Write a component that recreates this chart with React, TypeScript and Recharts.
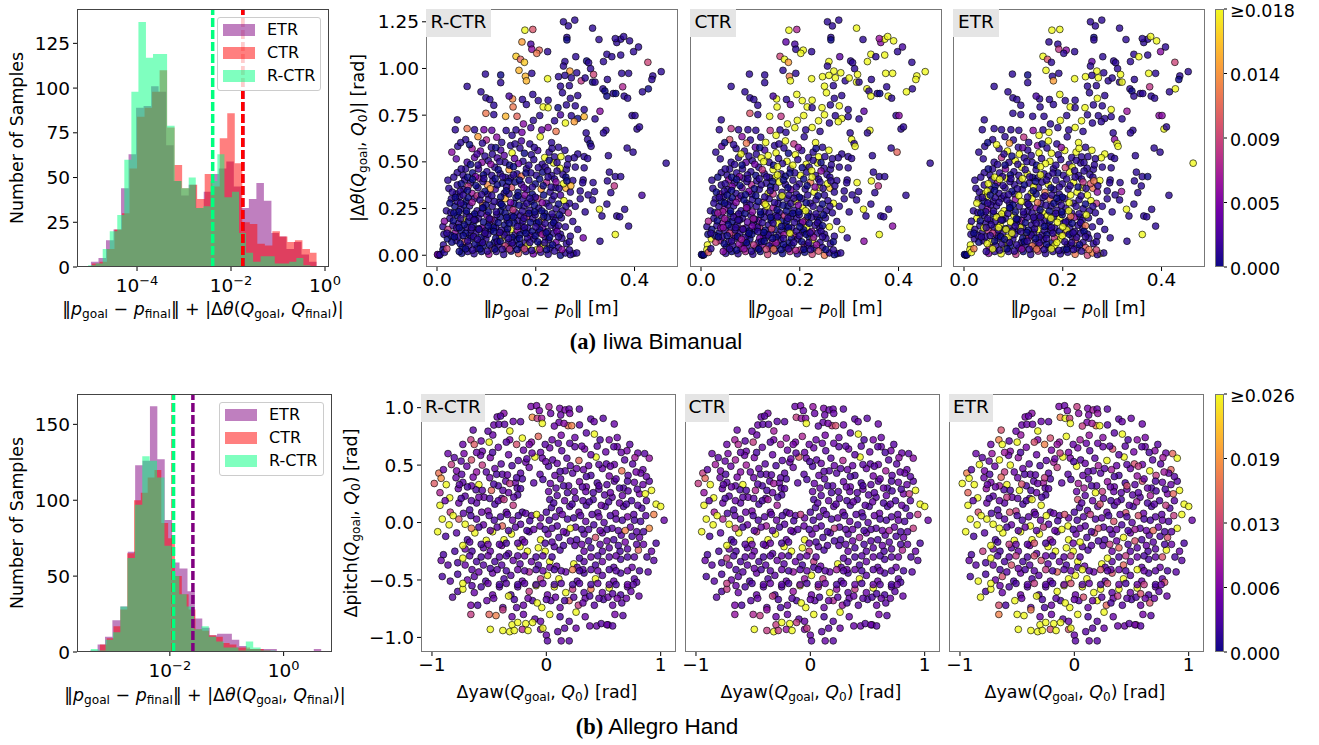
import { Area, Bar, BarChart, ComposedChart, ReferenceLine, Scatter, ScatterChart, XAxis, YAxis } from "recharts";

const FONT = "DejaVu Sans";
const PURPLE = "#800080";
const RED = "#ff0000";
const GREEN = "#00ff7f";

// ---- histogram (a): log10 bin edges and counts
const aEtrEdges = [-4.98,-4.82,-4.66,-4.5,-4.34,-4.18,-4.02,-3.86,-3.7,-3.54,-3.38,-3.22,-3.06,-2.9,-2.74,-2.58,-2.42,-2.26,-2.1,-1.94,-1.78,-1.62,-1.46,-1.3,-1.14,-0.98,-0.82,-0.66,-0.5,-0.34,-0.18];
const aEtrCounts = [3,5,15,21,44,63,89,90,101,98,68,48,40,46,33,42,52,55,59,45,33,38,47,37,19,17,10,14,7,3];
const aCtrEdges = [-4.96,-4.8,-4.64,-4.48,-4.32,-4.16,-4.0,-3.84,-3.68,-3.52,-3.36,-3.2,-3.04,-2.88,-2.72,-2.56,-2.4,-2.24,-2.08,-1.92,-1.76,-1.6,-1.44,-1.28,-1.12,-0.96,-0.8,-0.64,-0.48,-0.32,-0.18];
const aCtrCounts = [2,3,10,21,30,55,84,89,98,110,78,57,44,46,38,52,45,72,86,58,25,24,13,12,20,17,14,15,10,8];
const aRctrEdges = [-5.04,-4.88,-4.73,-4.58,-4.42,-4.27,-4.12,-3.97,-3.81,-3.66,-3.51,-3.36,-3.2,-3.05,-2.9,-2.75,-2.59,-2.44,-2.29,-2.14,-1.98,-1.83,-1.68,-1.53,-1.37,-1.22,-1.07,-0.92,-0.76,-0.61,-0.46,-0.31];
const aRctrCounts = [1,2,10,20,29,60,98,137,117,119,119,79,48,44,50,33,34,48,63,39,42,19,8,3,6,6,2,2,3,5,1];
const aMedians = { etr: -1.75, ctr: -1.75, rctr: -2.39 };

// ---- histogram (b)
const bEtrEdges = [-3.4,-3.27,-3.14,-3.01,-2.87,-2.74,-2.61,-2.48,-2.35,-2.22,-2.09,-1.96,-1.83,-1.69,-1.56,-1.43,-1.3,-1.17,-1.04,-0.91,-0.78,-0.65,-0.52,-0.38,-0.25,-0.12,0.01,0.14,0.27,0.4,0.53,0.66];
const bEtrCounts = [1,5,10,21,30,66,123,126,162,127,87,59,55,40,22,16,11,12,12,8,4,2,2,2,2,0,0,0,0,0,2];
const bCtrEdges = [-3.23,-3.11,-2.99,-2.87,-2.75,-2.63,-2.51,-2.39,-2.27,-2.15,-2.03,-1.91,-1.79,-1.67,-1.55,-1.43,-1.31,-1.19,-1.07,-0.95,-0.83,-0.71,-0.59,-0.47,-0.35,-0.23];
const bCtrCounts = [5,9,17,28,65,100,105,115,120,85,75,50,38,28,15,14,11,10,6,5,3,3,2,2,1];
const bRctrEdges = [-3.39,-3.26,-3.13,-3.0,-2.87,-2.745,-2.615,-2.485,-2.355,-2.225,-2.095,-1.965,-1.835,-1.705,-1.575,-1.445,-1.315,-1.185,-1.055,-0.925,-0.795,-0.665,-0.535,-0.405,-0.275,-0.145];
const bRctrCounts = [2,1,8,13,30,62,97,129,126,115,70,50,38,30,15,17,10,7,3,3,1,7,3,1,1];
const bMedians = { etr: -1.595, ctr: -1.94, rctr: -1.935 };

// ---- scatter (a): start-goal distance and rotation, one point per sample
const topPoints = [
  [.256,1.25],[.266,1.228],[.279,1.259],[.315,1.216],[.263,1.166],[.263,1.153],[.328,1.155],[.178,1.205],[.194,1.209],[.172,1.142],
  [.19,1.13],[.192,1.103],[.207,1.098],[.202,1.081],[.224,1.09],[.16,1.065],[.169,1.049],[.177,1.033],[.166,.99],[.179,.958],
  [.181,.934],[.224,.945],[.192,.974],[.098,.97],[.129,.965],[.129,.924],[.061,.904],[.089,.875],[.099,.843],[.107,.834],
  [.115,.803],[.099,.76],[.115,.753],[.041,.725],[.037,.672],[.061,.678],[.076,.672],[.095,.672],[.111,.669],[.139,.744],
  [.162,.744],[.153,.837],[.146,.852],[.154,.794],[.173,.834],[.181,.807],[.194,.861],[.205,.828],[.215,.794],[.225,.83],
  [.364,1.139],[.372,1.157],[.378,1.171],[.39,1.148],[.361,1.16],[.398,1.09],[.408,1.115],[.344,1.076],[.337,1.037],[.354,1.063],
  [.372,1.072],[.303,1.04],[.307,1.031],[.281,1.063],[.259,1.037],[.256,1.013],[.311,.999],[.317,.968],[.269,.986],[.283,.977],
  [.246,.956],[.259,.963],[.272,.95],[.292,.934],[.3,.949],[.315,.927],[.32,.927],[.345,.941],[.374,.974],[.388,.974],
  [.427,1.033],[.454,.983],[.437,.96],[.435,.941],[.428,.891],[.416,.875],[.376,.902],[.336,.891],[.34,.879],[.344,.852],
  [.357,.866],[.362,.866],[.379,.852],[.386,.841],[.33,.771],[.395,.748],[.401,.748],[.405,.676],[.41,.687],[.342,.669],
  [.337,.655],[.385,.574],[.397,.552],[.464,.493],[.347,.533],[.349,.445],[.361,.421],[.372,.421],[.359,.371],[.415,.321],
  [.352,.335],[.345,.398],[.364,.21],[.37,.206],[.38,.246],[.388,.156],[.361,.111],[.33,.075],[.344,.274],[.329,.246],
  [.334,.21],[.315,.296],[.319,.341],[.296,.403],[.316,.389],[.306,.323],[.29,.344],[.261,.359],[.296,.093],[.276,.009],
  [.25,.905],[.268,.908],[.254,.87],[.27,.84],[.285,.855],[.245,.79],[.262,.805],[.28,.8],[.298,.78],[.25,.752],
  [.272,.747],[.285,.732],[.298,.742],[.32,.73],[.238,.72],[.26,.708],[.278,.715],[.302,.655],[.305,.62],[.31,.598],
  [.312,.583],[.285,.542],[.298,.528],[.305,.518],[.278,.522],[.262,.46],[.28,.472],[.298,.468],[.275,.4],[.255,.432],
  [.295,.388],[.29,.302],[.28,.262],[.268,.278],[.25,.322],[.24,.362],[.27,.338],[.3,.232],[.275,.181],[.26,.152],
  [.285,.138],[.27,.102],[.25,.113],[.24,.148],[.262,.062],[.283,.012],[.252,.2],[.235,.204],[.225,.79],[.208,.748],
  [.195,.722],[.175,.703],[.16,.671],[.14,.668],[.152,.642],[.172,.658],[.19,.683],[.212,.671],[.225,.684],[.241,.663],
  [.121,.632],[.1,.617],[.083,.635],[.058,.619],[.042,.583],[.039,.516],[.03,.552],[.061,.498],[.092,.6],[.11,.578],
  [.131,.604],[.149,.587],[.171,.612],[.188,.596],[.209,.634],[.232,.603],[.246,.578],[.259,.562],[.071,.571],[.088,.558],
  [.112,.541],[.129,.563],[.152,.548],[.168,.574],[.191,.538],[.204,.561],[.227,.552],[.238,.527],[.251,.528],[.266,.517],
  [.058,.462],[.076,.523],[.091,.497],[.104,.506],[.122,.521],[.138,.497],[.157,.518],[.174,.503],[.196,.512],[.213,.487],
  [.219,.472],[.236,.494],[.249,.466],[.264,.484],[.041,.442],[.053,.428],[.072,.441],[.084,.462],[.101,.447],[.117,.471],
  [.128,.437],[.146,.458],[.162,.436],[.181,.463],[.201,.428],[.214,.445],[.232,.427],[.243,.451],[.261,.418],[.022,.402],
  [.041,.376],[.056,.403],[.068,.388],[.086,.412],[.102,.378],[.113,.398],[.132,.386],[.149,.414],[.171,.379],[.186,.402],
  [.199,.382],[.222,.391],[.238,.408],[.256,.383],[.271,.372],[.024,.358],[.039,.328],[.054,.352],[.071,.331],[.083,.361],
  [.103,.327],[.118,.353],[.136,.331],[.151,.362],[.164,.337],[.182,.351],[.193,.326],[.211,.354],[.229,.338],[.247,.358],
  [.029,.302],[.046,.313],[.059,.287],[.076,.304],[.092,.278],[.104,.298],[.126,.283],[.138,.303],[.156,.277],[.174,.302],
  [.191,.288],[.204,.303],[.221,.279],[.233,.297],[.257,.292],[.019,.238],[.036,.262],[.048,.247],[.066,.264],[.081,.238],
  [.094,.253],[.112,.262],[.129,.237],[.146,.254],[.159,.228],[.176,.263],[.188,.241],[.206,.252],[.218,.226],[.241,.249],
  [.254,.238],[.266,.227],[.026,.197],[.041,.213],[.053,.187],[.072,.209],[.084,.198],[.101,.214],[.116,.186],[.128,.203],
  [.151,.212],[.163,.187],[.182,.208],[.194,.197],[.212,.188],[.224,.204],[.239,.186],[.032,.158],[.044,.172],[.061,.148],
  [.073,.163],[.091,.147],[.106,.173],[.119,.148],[.137,.162],[.149,.137],[.171,.158],[.184,.146],[.202,.172],[.214,.148],
  [.231,.161],[.012,.153],[.036,.118],[.049,.132],[.066,.108],[.079,.123],[.096,.107],[.109,.134],[.126,.106],[.141,.122],
  [.158,.108],[.176,.131],[.189,.106],[.206,.123],[.219,.098],[.236,.118],[.021,.088],[.039,.078],[.056,.073],[.069,.092],
  [.086,.068],[.099,.087],[.116,.069],[.131,.093],[.144,.067],[.161,.082],[.179,.068],[.196,.087],[.209,.058],[.226,.082],
  [.241,.068],[.253,.091],[.051,.043],[.064,.052],[.081,.038],[.094,.053],[.111,.039],[.124,.056],[.141,.037],[.154,.052],
  [.171,.043],[.184,.053],[.201,.028],[.216,.051],[.229,.039],[.246,.041],[.002,.002],[.004,0],[.001,.004],[.006,.003],
  [.013,.055],[.012,.03],[.015,.015],[.02,.035],[.05,.01],[.062,.02],[.075,.008],[.09,.02],[.105,.005],[.12,.02],
  [.135,.004],[.15,.022],[.165,.009],[.18,.02],[.195,.007],[.21,.016],[.225,.005],[.25,0],[.26,.012],[.27,.003],
  // second pass over the crowded lower left
  [.048,.603],[.066,.592],[.081,.542],[.097,.531],[.119,.576],[.136,.534],[.158,.596],[.177,.546],[.197,.577],[.218,.523],
  [.233,.572],[.068,.486],[.083,.483],[.109,.487],[.127,.501],[.147,.482],[.165,.491],[.186,.482],[.205,.469],[.227,.508],
  [.243,.496],[.049,.462],[.062,.418],[.078,.421],[.094,.43],[.111,.427],[.124,.458],[.139,.416],[.155,.474],[.171,.423],
  [.19,.441],[.208,.408],[.224,.453],[.241,.392],[.034,.418],[.049,.383],[.063,.369],[.079,.373],[.093,.394],[.108,.356],
  [.122,.377],[.141,.367],[.158,.392],[.176,.361],[.193,.365],[.215,.372],[.231,.365],[.263,.398],[.031,.338],[.047,.343],
  [.063,.308],[.081,.318],[.097,.342],[.111,.319],[.129,.312],[.146,.328],[.16,.309],[.178,.322],[.199,.311],[.216,.322],
  [.237,.318],[.026,.279],[.041,.288],[.054,.27],[.071,.283],[.087,.296],[.099,.269],[.116,.288],[.133,.262],[.149,.282],
  [.166,.268],[.182,.278],[.197,.268],[.213,.281],[.227,.262],[.246,.274],[.261,.262],[.028,.228],[.044,.233],[.059,.224],
  [.076,.221],[.089,.224],[.104,.232],[.121,.218],[.138,.226],[.154,.243],[.169,.212],[.186,.224],[.199,.217],[.216,.208],
  [.233,.222],[.248,.216],[.015,.182],[.033,.184],[.048,.196],[.063,.181],[.078,.188],[.094,.178],[.109,.193],[.124,.174],
  [.142,.188],[.156,.172],[.174,.183],[.189,.176],[.206,.178],[.219,.171],[.236,.174],[.246,.158],[.022,.138],[.04,.146],
  [.055,.163],[.069,.135],[.084,.142],[.098,.13],[.114,.148],[.13,.134],[.143,.142],[.163,.132],[.177,.148],[.193,.128],
  [.208,.136],[.224,.127],[.243,.128],[.028,.106],[.043,.098],[.058,.118],[.074,.1],[.089,.096],[.103,.112],[.119,.091],
  [.136,.108],[.152,.096],[.168,.11],[.183,.092],[.199,.104],[.213,.112],[.228,.096],[.246,.099],[.014,.112],[.03,.07],
  [.047,.062],[.062,.076],[.077,.06],[.092,.068],[.107,.055],[.122,.072],[.138,.05],[.152,.066],[.167,.058],[.188,.068],
  [.204,.072],[.218,.067],[.234,.056],[.268,.072],[.058,.034],[.072,.027],[.087,.034],[.102,.022],[.117,.033],[.132,.032],
  [.147,.032],[.162,.03],[.177,.034],[.192,.026],[.208,.032],[.222,.03],[.238,.022],[.253,.03],[.268,.028],[.045,.02],
  [.053,.105],[.066,.204],[.034,.226],[.048,.279],[.037,.31],[.053,.322],[.118,.41],[.167,.402],[.225,.418],[.062,.347],
  [.085,.138],[.104,.156],[.127,.122],[.146,.172],[.163,.154],[.18,.118],[.2,.152],[.221,.12],[.092,.254],[.12,.232],
  [.155,.206],[.173,.236],[.212,.238],[.06,.236],[.075,.188],[.106,.195],[.141,.203],[.176,.198],[.198,.232],[.13,.273],
  [.097,.118],[.115,.127],[.082,.085],[.128,.075],[.167,.09],[.145,.09],[.045,.148],[.07,.148],[.035,.098],[.02,.118],
  [.14,.345],[.09,.325],[.164,.318],[.188,.305],[.072,.406],[.095,.41],[.145,.395],[.133,.42],[.18,.44],[.155,.43],
];
// final errors, in thousandths, same order as topPoints
const topErrRctr = [
  1,1,1,1,1,0,1,18,10,14, 2,5,11,12,1,16,11,16,15,15, 15,18,1,1,0,1,1,1,1,1, 1,12,1,1,1,12,1,4,3,15, 11,13,2,12,1,1,1,1,18,1,
  1,1,1,1,1,1,1,1,1,1, 1,0,1,1,1,1,1,9,14,1, 1,1,1,8,1,0,1,1,1,1, 9,1,1,1,0,1,7,1,0,0, 1,0,1,1,5,1,1,1,1,1,
  1,1,1,1,1,1,1,1,8,2, 1,1,1,1,1,1,18,1,1,18, 1,1,1,1,1,1,1,15,4,1, 1,1,1,1,1,0,1,1,1,2, 1,0,15,1,1,18,14,1,1,0,
  1,1,1,1,1,1,1,1,1,1, 1,1,1,1,2,1,1,1,1,1, 1,1,1,1,1,1,1,1,18,1, 1,5,1,1,1,4,2,3,5,12, 5,7,14,1,1,3,5,2,1,1,
  1,1,2,1,18,1,1,1,6,4, 1,2,18,1,1,2,1,1,18,1, 1,3,5,1,2,1,3,1,1,1, 1,18,18,1,1,1,0,2,1,1, 1,14,1,1,1,0,1,1,0,1,
  1,1,1,6,13,1,0,1,2,1, 0,7,1,18,15,1,1,1,6,1, 1,2,1,10,0,1,0,14,1,1, 1,1,0,1,13,1,1,15,0,1, 0,8,1,1,18,1,0,1,1,1,
  1,1,0,1,1,1,1,1,0,1, 1,7,1,0,18,1,1,4,1,0, 1,1,8,1,15,0,1,1,1,1, 0,4,1,1,0,18,1,1,0,3, 1,1,5,0,1,1,13,0,7,1,
  1,0,4,1,1,1,0,1,10,0, 1,1,0,18,1,0,1,1,0,1, 4,1,0,1,1,0,11,1,0,1, 1,18,18,18,1,1,0,1,4,1, 1,0,1,9,0,1,1,0,6,1,
  1,0,11,1,4,1,1,0,1,1,
  1,0,2,1,0,3,1,0,1,18, 1,0,1,5,1,0,4,1,1,0, 1,1,0,4,0,1,0,1,0,12, 1,0,1,5,1,0,8,0,1,14, 0,1,0,3,1,0,1,0,1,1,
  0,8,0,1,0,1,0,5,1,0, 1,0,1,0,6,1,0,1,0,4, 0,1,0,5,1,0,1,1,0,1, 0,1,0,1,0,8,1,0,1,0, 1,0,5,0,1,0,1,0,6,0,
  1,0,1,0,0,1,0,1,8,1, 0,1,0,1,0,1,0,5,1,0, 0,1,3,0,1,0,1,0,1,0, 1,0,0,1,0,6,0,1,1,0, 0,1,0,1,0,1,9,1,0,1,
  0,1,0,1,0,1,0,1,0,1, 8,0,9,1,7,0,1,5,1,0, 0,1,0,1,0,1,0,0,1,0, 1,0,1,0,1,0,1,0,0,1, 0,1,0,0,1,1,0,1,0,0,
  1,0,1,0,0,1,0,1,0,1, 0,1,0,1,0,1,0,1,0,1,
];
const topErrCtr = [
  1,1,1,18,1,0,1,18,7,3, 2,1,18,18,1,9,18,14,1,12, 18,18,1,1,1,1,1,1,1,1, 1,10,1,1,1,8,1,1,1,18, 8,18,2,18,1,3,18,18,18,18,
  5,18,18,18,6,1,2,18,18,1, 18,1,1,3,18,1,1,18,18,18, 18,18,18,1,18,18,1,1,18,18, 1,18,18,18,1,18,1,18,1,18, 1,0,18,1,3,1,5,1,1,18,
  1,1,11,1,1,1,1,1,8,1, 1,18,1,1,1,5,18,5,1,18, 1,1,1,1,18,1,1,16,1,1, 18,1,18,1,1,18,1,18,1,18, 1,18,1,1,18,1,18,1,18,1,
  18,1,1,1,1,1,1,1,1,1, 1,1,1,18,1,18,1,1,1,18, 18,1,1,1,1,1,1,1,1,18, 18,18,1,8,18,1,18,1,18,1, 1,1,5,10,3,1,1,1,12,3,
  18,1,18,8,1,18,1,18,1,1, 1,2,18,1,18,1,1,18,1,1, 1,1,3,1,18,1,1,18,1,18, 1,18,1,1,1,1,1,1,1,1, 1,18,1,1,18,1,1,5,1,1,
  1,5,1,1,7,1,1,18,1,1, 1,12,1,18,1,1,5,1,1,3, 1,1,18,1,1,4,1,1,18,1, 1,1,1,5,1,1,8,1,1,1, 18,1,1,1,1,1,1,5,1,1,
  1,1,1,6,1,0,1,18,1,1, 1,1,1,1,0,8,1,1,4,1, 1,0,1,1,10,1,0,1,5,1, 1,1,0,8,1,0,1,1,0,18, 1,1,0,1,9,1,1,0,1,1,
  1,0,7,1,0,1,18,6,1,1, 1,0,1,1,5,1,0,1,8,18, 1,1,0,1,6,1,0,5,1,0, 1,0,8,1,0,1,0,0,0,0, 18,18,10,1,1,0,1,7,1,0,
  9,1,0,7,1,0,9,12,1,0,
  0,1,18,1,0,18,1,0,5,1, 0,1,0,4,18,0,1,18,0,1, 0,1,0,5,1,0,8,1,18,0, 1,0,18,1,0,1,4,0,1,0, 1,0,18,0,1,0,5,1,0,1,
  0,1,4,0,1,8,0,1,0,1, 0,1,0,1,5,0,1,0,18,1, 0,1,4,0,1,0,1,0,6,0, 1,0,5,0,1,0,8,0,1,0, 1,0,7,0,6,0,1,3,0,1,
  0,18,0,1,5,0,1,0,0,4, 0,1,6,0,1,0,9,1,0,1, 0,5,1,0,1,8,0,1,0,4, 1,0,6,0,1,0,5,1,0,9, 0,1,5,0,8,0,1,6,0,1,
  0,1,6,0,1,0,5,1,0,9, 12,0,1,7,0,1,10,0,1,5, 0,1,6,0,1,0,1,0,18,0, 1,4,0,1,0,18,0,1,5,0, 1,0,18,0,1,6,0,1,0,18,
  0,1,6,0,1,0,5,1,0,1, 1,0,18,1,0,1,0,1,0,18,
];
const topErrEtr = [
  1,1,1,1,0,1,1,18,18,1, 1,8,5,1,1,18,10,1,18,1, 14,18,1,1,0,1,1,1,1,1, 1,1,1,1,1,1,1,1,1,1, 1,1,2,1,1,1,18,1,18,1,
  1,1,18,18,1,5,1,1,1,18, 1,1,1,1,3,1,1,18,18,1, 18,1,18,1,1,1,18,1,18,1, 9,1,1,0,18,1,8,1,0,1, 1,1,1,1,6,5,5,18,1,1,
  1,1,1,18,1,1,1,0,1,1, 1,1,1,1,1,1,18,1,1,18, 1,1,6,1,1,1,1,12,1,18, 1,1,1,18,1,18,1,1,18,1, 1,1,1,1,18,1,1,1,5,18,
  18,18,1,1,18,1,1,1,18,1, 1,1,1,8,18,18,5,1,1,1, 1,1,1,1,1,1,1,1,1,1, 18,1,1,5,18,18,1,1,18,1, 8,1,1,1,1,1,1,1,14,1,
  1,5,18,1,1,18,1,18,1,18, 18,1,18,1,1,18,18,1,1,1, 1,8,1,18,1,1,1,18,1,1, 18,1,1,1,1,1,1,5,1,18, 18,1,1,1,1,18,1,1,1,1,
  1,1,5,18,1,1,1,1,18,1, 1,18,1,10,1,1,18,1,1,1, 1,1,18,1,12,1,1,1,18,1, 1,18,1,1,1,5,1,18,1,12, 1,1,1,1,18,1,1,5,1,18,
  1,1,1,5,18,1,1,1,1,1, 1,1,18,1,1,1,1,18,5,1, 1,1,0,18,1,5,1,1,1,1, 18,1,0,1,1,18,1,1,1,1, 1,18,1,8,1,1,1,0,18,1,
  1,1,18,5,1,1,1,1,18,1, 18,1,1,6,1,1,0,18,1,10, 1,1,5,1,18,0,1,1,1,8, 1,18,0,1,1,10,0,0,0,0, 18,18,18,12,5,1,18,1,8,0,
  1,8,1,1,1,1,12,9,13,1,
  0,18,1,0,3,1,0,18,5,1, 18,1,0,1,1,0,18,1,9,1, 1,0,18,1,0,1,1,0,18,1, 0,1,1,8,1,18,0,1,1,1, 0,18,1,0,1,1,0,12,1,18,
  1,1,0,18,1,0,1,1,0,18, 1,18,0,1,1,1,0,18,1,12, 1,0,1,18,1,0,1,1,1,0, 18,1,0,1,1,0,18,1,0,12, 1,18,1,0,1,1,0,18,1,0,
  1,1,0,18,1,0,1,12,1,18, 1,1,0,1,18,0,1,1,1,0, 18,1,0,1,1,8,0,18,1,0, 1,1,0,8,18,0,1,1,1,0, 18,0,1,1,1,0,12,1,0,18,
  1,1,0,1,18,1,0,1,5,1, 12,1,18,1,0,1,1,12,9,1, 1,18,0,1,1,0,18,1,1,0, 18,1,0,1,0,1,18,1,0,1, 1,0,18,1,1,0,1,18,0,1,
  18,1,0,1,1,0,1,18,1,0, 0,1,1,0,18,1,0,1,1,18,
];

// ---- scatter (b): yaw and pitch of the goal
const botPoints = [
  [-.134,1.01],[-.085,1.017],[.023,1.008],[-.061,.974],[.038,.95],[.117,.994],[.164,.98],[.199,.988],[.289,.988],[.126,.936],
  [.205,.95],[-.123,.916],[-.079,.907],[-.041,.907],[-.225,.878],[-.43,.919],[-.371,.951],[-.4,.927],[.389,.901],[.497,.907],
  [.418,.878],[.19,.843],[.222,.843],[.111,.872],[.155,.863],[-.035,.863],[-.459,.849],[-.415,.855],[-.365,.855],[.594,.858],
  [-.64,.805],[-.319,.797],[-.468,.762],[-.32,.72],[-.13,.7],[-.07,.75],[.05,.72],[.13,.76],[.25,.74],[.35,.78],
  [.42,.77],[.55,.72],[.62,.74],[.73,.68],[.62,.66],[-.66,.72],[-.63,.68],[-.73,.68],[-.56,.62],[-.5,.7],
  [-.42,.655],[-.35,.7],[-.26,.68],[-.2,.63],[-.15,.68],[-.05,.61],[.03,.65],[.135,.625],[.25,.66],[.335,.64],
  [.445,.665],[.52,.615],[.59,.66],[.705,.625],[.8,.605],[.86,.6],[.9,.56],[-.86,.6],[-.805,.565],[-.72,.6],
  [-.655,.545],[-.575,.585],[-.49,.565],[-.395,.51],[-.33,.59],[-.245,.54],[-.18,.525],[-.1,.57],[-.035,.56],[.055,.545],
  [.095,.515],[.18,.56],[.285,.54],[.37,.495],[.435,.57],[.525,.51],[.595,.505],[.685,.545],[.755,.51],[.845,.46],
  [-.94,.43],[-.83,.505],[-.785,.45],[-.695,.49],[-.61,.44],[-.56,.5],[-.45,.47],[-.385,.42],[-.3,.495],[-.225,.43],
  [-.15,.48],[-.055,.42],[.02,.49],[.075,.41],[.165,.45],[.23,.43],[.325,.46],[.39,.41],[.49,.47],[.55,.405],
  [.66,.45],[.715,.41],[.825,.43],[.9,.36],[-.98,.34],[-.92,.385],[-.875,.33],[-.79,.39],[-.73,.35],[-.64,.395],
  [-.59,.33],[-.495,.39],[-.42,.32],[-.355,.36],[-.27,.345],[-.21,.38],[-.11,.345],[-.03,.375],[.035,.34],[.125,.38],
  [.195,.32],[.29,.355],[.35,.31],[.445,.345],[.53,.33],[.595,.36],[.675,.3],[.77,.35],[.845,.33],[.92,.28],
  [-.93,.26],[-.845,.215],[-.77,.295],[-.71,.23],[-.615,.285],[-.545,.22],[-.48,.28],[-.39,.21],[-.33,.26],[-.25,.24],
  [-.255,.3],[.03,.2],[.02,.27],[.095,.235],[.185,.26],[.255,.21],[.345,.27],[.41,.2],[.51,.24],[.575,.22],
  [.665,.235],[.745,.19],[.815,.25],[.875,.19],[.96,.16],[1,.14],[-.93,.15],[-.84,.09],[-.765,.17],[-.67,.11],
  [-.61,.17],[-.51,.1],[-.45,.16],[-.35,.09],[-.29,.15],[-.21,.09],[-.13,.06],[-.05,.04],[.045,.13],[.115,.105],
  [.205,.14],[.285,.09],[.35,.15],[.45,.085],[.515,.14],[.605,.08],[.675,.14],[.765,.07],[.835,.125],[.94,.07],
  [-.91,.03],[-.85,-.02],[-.95,-.08],[-.765,.03],[-.71,-.015],[-.61,.03],[-.55,-.02],[-.455,.02],[-.385,-.03],[-.295,.02],
  [-.225,-.015],[-.145,.015],[-.055,-.03],[.025,.02],[.095,-.03],[.185,.03],[.255,-.04],[.345,.01],[.415,-.02],[.505,.0],
  [.575,-.05],[.665,.02],[.735,-.04],[.825,.01],[.9,-.05],[1.03,.02],[-.88,-.12],[-.785,-.09],[-.69,-.15],[-.625,-.09],
  [-.525,-.155],[-.47,-.08],[-.37,-.15],[-.305,-.1],[-.21,-.15],[-.15,-.08],[-.05,-.15],[.015,-.1],[.11,-.13],[.175,-.09],
  [.265,-.15],[.33,-.1],[.43,-.13],[.49,-.09],[.59,-.15],[.655,-.11],[.75,-.12],[.815,-.13],[.96,-.18],[.92,-.25],
  [-.9,-.28],[-.92,-.33],[-.86,-.37],[-.8,-.25],[-.71,-.23],[-.65,-.25],[-.55,-.22],[-.49,-.25],[-.39,-.2],[-.33,-.27],
  [-.23,-.21],[-.165,-.25],[-.07,-.22],[-.01,-.25],[.07,-.21],[.12,-.24],[.25,-.2],[.33,-.25],[.39,-.22],[.49,-.25],
  [.55,-.22],[.645,-.25],[.71,-.23],[.805,-.24],[.88,-.3],[.94,-.33],[-.775,-.35],[-.71,-.37],[-.61,-.34],[-.55,-.37],
  [-.45,-.34],[-.39,-.37],[-.29,-.33],[-.23,-.36],[-.13,-.34],[-.07,-.37],[.03,-.34],[.09,-.38],[.24,-.36],[.27,-.39],
  [.33,-.34],[.43,-.37],[.49,-.34],[.59,-.39],[.65,-.32],[.75,-.39],[.815,-.42],[.89,-.43],[-.91,-.47],[-.84,-.51],
  [-.775,-.45],[-.69,-.5],[-.63,-.47],[-.53,-.51],[-.47,-.44],[-.37,-.49],[-.31,-.46],[-.21,-.51],[-.15,-.43],[-.05,-.49],
  [.01,-.46],[.11,-.49],[.17,-.43],[.27,-.51],[.33,-.44],[.43,-.49],[.49,-.46],[.59,-.51],[.65,-.44],[.77,-.49],
  [-.82,-.65],[-.775,-.6],[-.73,-.58],[-.63,-.61],[-.57,-.56],[-.47,-.63],[-.41,-.56],[-.31,-.63],[-.25,-.56],[-.15,-.6],
  [-.09,-.55],[.01,-.63],[.07,-.56],[.17,-.61],[.23,-.58],[.33,-.61],[.39,-.58],[.49,-.61],[.55,-.57],[.65,-.63],
  [.71,-.56],[.81,-.64],[-.66,-.72],[-.6,-.72],[-.46,-.66],[-.38,-.74],[-.28,-.67],[-.2,-.72],[-.12,-.68],[-.04,-.74],
  [.04,-.68],[.12,-.74],[.2,-.68],[.28,-.72],[.34,-.66],[.42,-.72],[.5,-.67],[.58,-.72],[.66,-.7],[.7,-.66],
  [-.66,-.8],[-.5,-.8],[-.44,-.81],[-.38,-.76],[-.3,-.82],[-.2,-.8],[-.1,-.84],[-.05,-.86],[.03,-.8],[.12,-.82],
  [.2,-.86],[.26,-.78],[.34,-.82],[.44,-.9],[.48,-.88],[.54,-.89],[.6,-.8],[.67,-.81],[.53,-.89],[-.3,-.89],
  [-.25,-.87],[-.18,-.88],[-.12,-.87],[-.05,-.93],[-.49,-.93],[-.38,-.94],[-.32,-.95],[-.28,-.94],[-.21,-.93],[.1,-.95],
  [.16,-.92],[.26,-.92],[0,-.98],[.01,-1.03],[.13,-1.03],[.2,-1.03],[-.03,-.92],[.58,-.9],[-.16,-.94],[.38,-.9],
  // second pass
  [-.29,.88],[.29,.85],[.07,.84],[-.51,.795],[-.57,.71],[-.21,.735],[.205,.69],[.31,.665],[.47,.72],[-.61,.61],
  [.105,.69],[.39,.59],[-.745,.535],[-.47,.61],[-.125,.605],[-.01,.68],[.46,.505],[.655,.61],[.775,.565],[-.9,.46],
  [-.74,.42],[-.655,.32],[-.525,.44],[-.435,.42],[-.34,.415],[-.26,.39],[-.17,.555],[-.005,.53],[.12,.445],[.21,.495],
  [.265,.47],[.35,.4],[.46,.29],[.56,.49],[.61,.38],[.71,.36],[.785,.44],[.875,.4],[.795,.29],[-.76,.33],
  [-.69,.31],[-.56,.28],[-.46,.335],[-.38,.28],[-.32,.34],[-.225,.295],[.085,.3],[.15,.32],[.245,.27],[.315,.31],
  [.41,.26],[.46,.32],[.56,.26],[.64,.3],[.715,.275],[.865,.25],[-.885,.19],[-.745,.21],[-.655,.19],[-.59,.22],
  [-.495,.21],[-.42,.19],[-.37,.2],[-.285,.22],[.065,.17],[.16,.19],[.225,.16],[.32,.19],[.375,.18],[.48,.15],
  [.545,.18],[.64,.17],[.7,.16],[.8,.15],[-.815,.06],[-.725,.08],[-.66,.06],[-.565,.09],[-.5,.06],[-.4,.05],
  [-.34,.07],[-.245,.06],[-.18,.08],[-.085,.07],[.0,.09],[.08,.05],[.14,.07],[.24,.04],[.3,.06],[.4,.07],
  [.46,.05],[.56,.06],[.61,.03],[.71,.05],[.77,.02],[.87,.06],[-.655,-.05],[-.59,-.04],[-.49,-.07],[-.43,-.04],
  [-.33,-.07],[-.27,-.04],[-.17,-.07],[-.11,-.06],[-.01,-.06],[.05,-.05],[.15,-.08],[.21,-.05],[.31,-.06],[.37,-.06],
  [.47,-.07],[.53,-.06],[.63,-.07],[.69,-.07],[.79,-.08],[.85,-.08],[-.73,-.2],[-.67,-.17],[-.57,-.19],[-.51,-.19],
  [-.41,-.19],[-.35,-.18],[-.25,-.18],[-.19,-.17],[-.01,-.18],[.05,-.17],[.15,-.2],[.21,-.16],[.31,-.19],[.37,-.16],
  [.47,-.19],[.53,-.16],[.63,-.2],[.69,-.17],[.79,-.19],[.85,-.19],[-.73,-.31],[-.67,-.29],[-.57,-.3],[-.51,-.29],
  [-.41,-.3],[-.35,-.29],[-.25,-.29],[-.19,-.29],[-.09,-.3],[-.03,-.29],[.05,-.3],[.03,-.39],[.32,-.41],[.29,-.31],
  [.39,-.3],[.45,-.29],[.55,-.3],[.61,-.29],[.71,-.3],[.77,-.3],[-.65,-.41],[-.59,-.43],[-.49,-.4],[-.43,-.41],
  [-.35,-.42],[-.25,-.41],[-.19,-.42],[-.09,-.41],[-.03,-.42],[.07,-.41],[.13,-.42],[.23,-.41],[.29,-.42],[.39,-.41],
  [.45,-.42],[.55,-.41],[.61,-.42],[.71,-.42],[.79,-.52],[-.73,-.53],[-.65,-.55],[-.51,-.53],[-.41,-.54],[-.35,-.53],
  [-.25,-.54],[-.19,-.53],[-.09,-.54],[-.03,-.53],[.07,-.54],[.13,-.53],[.23,-.54],[.29,-.53],[.39,-.54],[.45,-.53],
  [.55,-.54],[.61,-.54],[.71,-.54],[.76,-.54],[-.52,-.68],[-.33,-.64],[-.26,-.74],[-.16,-.66],[-.08,-.7],[.0,-.67],
  [.08,-.65],[.16,-.68],[.24,-.65],[.32,-.7],[.38,-.64],[.46,-.66],[.54,-.65],[.62,-.66],[.74,-.6],[.58,-.62],
];
const botErrRctr = [
  6,6,9,6,5,6,6,5,4,5, 6,19,12,9,4,5,7,4,4,4, 5,17,18,5,7,26,5,4,4,5, 4,26,5,6,7,16,5,6,5,4, 26,6,5,4,5,12,15,5,5,26,
  5,4,14,5,6,5,5,4,4,6, 4,5,4,6,5,4,8,5,4,6, 14,5,6,4,5,4,5,26,5,4, 5,4,16,5,26,4,5,4,4,5, 17,12,6,5,8,12,5,4,3,4,
  5,4,3,5,4,4,5,3,5,6, 17,4,5,4,15,19,26,5,4,6, 26,5,3,4,5,3,4,3,5,4, 4,6,5,3,4,4,3,5,5,26, 10,26,5,4,3,5,16,4,5,3,
  4,3,5,4,3,4,5,3,4,4, 5,3,6,4,26,26,26,12,5,3, 4,6,3,5,12,3,4,5,3,4, 4,5,3,4,3,5,3,4,3,18, 26,26,26,15,26,4,5,3,16,5,
  4,3,5,3,4,3,4,5,3,4, 4,3,5,3,19,5,3,4,3,26, 26,26,26,26,5,4,26,5,3,4, 3,4,14,5,3,4,3,5,3,5, 3,5,4,3,5,3,4,5,6,4,
  26,26,26,26,4,3,4,5,3,4, 4,3,4,16,3,4,3,5,3,4, 3,4,5,4,5,3,26,5,26,4, 4,3,5,4,3,5,3,4,3,4, 3,5,4,3,5,3,4,5,10,12,
  26,26,5,4,3,26,4,5,3,4, 4,3,26,5,3,5,4,3,4,12, 26,5,26,26,12,4,18,5,26,3, 5,5,6,3,5,4,3,5,3,26, 4,5,16,12,5,4,3,5,4,5,
  12,16,18,12,5,5,4,5,26,3, 4,26,5,5,4,5,6,4,5,26, 26,26,26,6,26,26,26,26,10,4, 4,5,5,4,5,4,26,4,26,5,
  5,4,5,4,5,26,4,5,3,5, 4,5,4,3,5,4,4,5,9,5, 4,5,4,3,5,3,4,5,3,4, 5,3,4,5,4,3,6,5,4,4, 3,4,3,4,12,3,4,3,5,4,
  3,4,5,3,4,26,5,3,4,5, 3,4,12,4,3,5,3,4,3,5, 3,5,3,4,26,4,3,5,4,3, 4,3,4,26,3,4,5,3,4,4, 5,3,4,6,3,4,18,3,5,4,
  3,4,3,5,3,4,5,26,3,4, 5,3,4,18,4,3,26,4,3,5, 4,3,4,5,3,4,3,4,5,3, 4,5,3,6,4,5,26,4,3,5, 4,3,4,5,3,4,3,5,4,3,
  5,3,4,5,3,4,4,5,3,4, 3,5,4,3,5,3,4,18,3,4, 5,3,4,5,4,26,4,5,3,4, 3,4,3,5,3,4,3,4,3,5, 4,3,5,4,5,26,4,5,26,4,
  5,3,4,5,3,4,5,6,5,4,
];
const botErrCtr = [
  5,6,8,5,5,6,5,5,4,5, 5,12,8,7,4,5,6,4,4,4, 5,12,14,5,6,26,5,4,4,5, 5,9,5,6,6,10,5,6,5,4, 26,6,5,4,5,9,10,5,5,12,
  5,4,9,5,6,5,5,4,4,6, 4,5,4,6,5,4,7,5,4,6, 9,5,6,4,5,4,5,15,5,4, 5,4,10,5,26,4,5,4,4,5, 12,9,6,5,7,9,5,4,3,4,
  5,4,3,5,4,4,5,3,5,6, 9,4,5,4,12,16,26,5,4,6, 26,5,3,4,5,3,4,3,5,4, 4,5,5,3,4,4,3,5,5,26, 8,26,5,4,3,5,10,4,5,3,
  4,3,5,4,3,4,5,3,4,4, 5,3,6,4,26,26,26,9,5,3, 4,6,3,5,9,3,4,5,3,4, 4,5,3,4,3,5,3,4,3,12, 26,26,26,10,26,4,5,3,9,5,
  4,3,5,3,4,3,4,5,3,4, 4,3,5,3,12,5,3,4,3,26, 26,12,26,26,5,4,26,5,3,4, 3,4,9,5,3,4,3,5,3,5, 3,5,4,3,5,3,4,5,6,4,
  26,26,26,12,4,3,4,5,3,4, 4,3,4,10,3,4,3,5,3,4, 3,4,5,4,5,3,12,5,26,4, 4,3,5,4,3,5,3,4,3,4, 3,5,4,3,5,3,4,5,8,8,
  26,12,5,4,3,26,4,5,3,4, 4,3,12,5,3,5,4,3,4,8, 26,5,12,26,8,4,12,5,26,3, 5,5,6,3,5,4,3,5,3,26, 4,5,10,8,5,4,3,5,4,5,
  8,10,12,8,5,5,4,5,26,3, 4,26,5,5,4,5,6,4,5,12, 26,26,12,6,26,12,26,12,8,4, 4,5,5,4,5,4,12,4,26,5,
  4,5,4,5,4,8,5,4,3,4, 5,4,5,3,4,5,4,3,7,4, 3,4,5,3,4,4,5,3,4,5, 4,3,5,4,5,3,5,4,3,4, 5,3,4,3,9,4,5,3,4,5,
  4,3,4,5,3,12,4,3,5,4, 4,3,9,3,4,5,4,3,5,4, 5,3,4,5,26,3,4,5,3,4, 4,3,5,12,3,4,4,5,3,4, 3,5,3,4,5,4,12,3,4,5,
  4,3,5,4,3,5,3,12,4,5, 3,4,5,9,3,4,26,3,4,5, 4,5,3,4,5,3,4,3,4,5, 3,4,5,4,3,5,12,3,4,5, 3,4,5,3,4,5,4,3,5,4,
  3,4,5,3,4,5,3,4,5,3, 4,5,3,4,5,3,4,9,4,5, 3,4,5,4,3,12,5,3,4,5, 4,3,5,3,4,5,3,4,5,3, 5,4,3,5,4,12,3,4,26,5,
  3,5,4,3,5,4,3,5,4,3,
];
const botErrEtr = [
  6,5,12,6,7,6,9,5,4,6, 8,18,26,12,4,6,7,5,4,5, 5,18,26,6,9,26,5,5,5,5, 14,26,8,6,8,26,9,8,7,4, 26,7,6,4,5,18,26,5,7,26,
  6,14,18,6,8,6,6,4,5,14, 4,6,4,7,5,16,26,5,4,8, 26,5,8,4,5,4,9,26,6,4, 5,4,26,5,26,14,5,4,4,16, 18,26,6,5,12,26,5,4,3,4,
  12,4,26,5,4,4,9,3,5,8, 26,12,5,4,26,26,26,5,6,16, 26,5,3,4,9,3,4,3,9,4, 4,8,5,3,4,14,3,5,5,26, 16,26,8,4,3,5,26,4,5,3,
  4,14,5,4,26,4,5,3,4,4, 9,3,6,4,26,26,26,14,5,3, 4,12,3,5,26,3,4,5,3,4, 4,5,3,14,3,5,3,4,3,26, 26,26,26,26,26,4,5,3,26,5,
  4,3,26,3,4,3,4,14,3,4, 4,3,5,3,26,5,3,4,3,26, 26,26,26,26,9,4,26,5,3,14, 3,4,26,5,3,4,3,14,3,5, 3,5,4,12,5,3,4,5,6,4,
  26,26,26,26,4,3,4,5,16,4, 4,3,4,26,3,4,3,5,3,14, 3,4,14,4,5,3,26,5,26,4, 4,16,5,4,3,5,3,4,3,26, 3,5,14,3,5,3,4,5,16,26,
  26,26,5,4,14,26,4,5,3,4, 26,3,26,5,3,5,4,3,4,26, 26,5,26,26,26,4,26,5,26,3, 5,5,14,3,5,4,3,5,3,26, 4,5,26,16,5,4,3,5,14,5,
  18,26,26,18,5,5,4,5,26,3, 4,26,5,5,4,12,6,4,5,26, 26,26,26,14,26,26,26,26,14,4, 4,5,5,4,5,4,26,4,26,5,
  5,4,12,5,4,14,5,4,3,9, 5,4,5,3,12,5,4,3,9,4, 3,9,5,3,4,12,5,3,4,9, 4,3,5,12,5,3,9,4,3,5, 5,3,14,3,5,4,9,3,12,5,
  4,14,4,5,3,16,4,3,5,12, 4,3,26,3,4,5,14,3,5,4, 9,3,4,12,26,3,4,14,3,4, 4,26,5,14,3,4,12,5,3,4, 3,14,3,4,5,12,26,3,4,5,
  4,12,5,26,3,5,3,14,4,5, 3,9,5,16,3,4,26,3,12,5, 4,14,3,4,5,26,4,3,12,5, 3,14,5,4,3,5,26,3,4,12, 3,14,5,3,4,12,4,3,5,26,
  3,12,5,3,4,14,3,4,5,3, 4,12,3,4,5,26,4,14,4,5, 3,26,5,4,14,26,5,3,4,12, 4,3,5,14,4,5,3,14,5,3, 5,12,3,5,26,26,3,4,26,5,
  14,5,4,3,12,4,3,5,4,14,
];

const PLASMA = [[13,8,135],[70,3,159],[114,1,168],[156,23,158],[189,55,134],[216,87,107],[237,121,83],[251,159,58],[253,202,38],[240,249,33]];
function plasma(t: number) {
  const v = Math.max(0, Math.min(1, t)) * (PLASMA.length - 1);
  const i = Math.min(Math.floor(v), PLASMA.length - 2);
  const f = v - i;
  const c = PLASMA[i].map((a, k) => Math.round(a + (PLASMA[i + 1][k] - a) * f));
  return `rgb(${c[0]},${c[1]},${c[2]})`;
}

function histTable(etr: [number[], number[]], ctr: [number[], number[]], rctr: [number[], number[]]) {
  const lookup = (s: [number[], number[]], x: number) => {
    const i = s[0].findIndex((e, k) => x >= e && x < s[0][k + 1]);
    return i >= 0 && i < s[1].length ? s[1][i] : 0;
  };
  const xs = Array.from(new Set([...etr[0], ...ctr[0], ...rctr[0]])).sort((a, b) => a - b);
  return xs.map((x) => ({ x, etr: lookup(etr, x), ctr: lookup(ctr, x), rctr: lookup(rctr, x) }));
}

const LogTick = ({ x, y, payload }: any) => (
  <text x={x} y={y + 19} textAnchor="middle" fontFamily={FONT} fontSize={18.5} fill="#000">
    <tspan>10</tspan>
    <tspan dy={-7} fontSize={13}>{payload.value === 0 ? "0" : `\u2212${Math.abs(payload.value)}`}</tspan>
  </text>
);

function Hist({ left, top, width, height, rows, xDomain, yMax, xTicks, yTicks, medians, medianOrder }: any) {
  const yw = 60;
  return (
    <div style={{ position: "absolute", left: left - yw, top: top - 10, width: width + yw + 24, height: height + 44 }}>
      <ComposedChart width={width + yw + 24} height={height + 44} data={rows} margin={{ top: 10, right: 24, left: 0, bottom: 0 }}>
        <XAxis dataKey="x" type="number" domain={xDomain} allowDataOverflow ticks={xTicks} tick={<LogTick />} tickSize={4} axisLine={false} stroke="#000" height={34} interval={0} />
        <YAxis type="number" domain={[0, yMax]} allowDataOverflow ticks={yTicks} tick={{ fontFamily: FONT, fontSize: 18.5, fill: "#000" }} tickSize={4} tickMargin={3} axisLine={false} stroke="#000" width={yw} interval={0} />
        <Area dataKey="etr" type="stepAfter" stroke="none" fill={PURPLE} fillOpacity={0.5} dot={false} activeDot={false} isAnimationActive={false} />
        <Area dataKey="ctr" type="stepAfter" stroke="none" fill={RED} fillOpacity={0.5} dot={false} activeDot={false} isAnimationActive={false} />
        <Area dataKey="rctr" type="stepAfter" stroke="none" fill={GREEN} fillOpacity={0.5} dot={false} activeDot={false} isAnimationActive={false} />
        {medianOrder.map((k: string) => (
          <ReferenceLine key={k} x={medians[k]} stroke={k === "etr" ? PURPLE : k === "ctr" ? RED : GREEN} strokeWidth={3.5} strokeDasharray="9 3" />
        ))}
      </ComposedChart>
      <div style={{ position: "absolute", left: yw, top: 10, width, height, boxSizing: "border-box", border: "1px solid #444", pointerEvents: "none" }} />
    </div>
  );
}

function Legend2({ left, top, width }: any) {
  const items = [["ETR", PURPLE], ["CTR", RED], ["R-CTR", GREEN]];
  return (
    <div style={{ position: "absolute", left, top, width, height: 74, boxSizing: "border-box", border: "1px solid #ccc", borderRadius: 3, background: "rgba(255,255,255,0.8)", fontFamily: FONT, fontSize: 16 }}>
      {items.map(([name, color], i) => (
        <div key={name} style={{ position: "absolute", left: 5, top: 6 + i * 23, height: 13, width: "100%" }}>
          <div style={{ position: "absolute", left: 0, top: 0, width: 32, height: 12, background: color, opacity: 0.5 }} />
          <div style={{ position: "absolute", left: 44, top: -3, lineHeight: "18px" }}>{name}</div>
        </div>
      ))}
    </div>
  );
}

function ScatterPanel({ left, top, width, height, points, errs, vmax, xDomain, yDomain, xTicks, yTicks, xFmt, yFmt, tag, tagWidth, showY }: any) {
  const yw = 60;
  const rows = points.map((p: number[], i: number) => ({ x: p[0], y: p[1], err: errs[i] ?? 1 }));
  return (
    <div style={{ position: "absolute", left: left - yw, top: top - 10, width: width + yw + 12, height: height + 44 }}>
      <ScatterChart width={width + yw + 12} height={height + 44} margin={{ top: 10, right: 12, left: showY ? 0 : yw, bottom: 0 }}>
        <XAxis dataKey="x" type="number" domain={xDomain} allowDataOverflow ticks={xTicks} tickFormatter={xFmt} tick={{ fontFamily: FONT, fontSize: 18.5, fill: "#000" }} tickSize={4} tickMargin={2} axisLine={false} stroke="#000" height={34} interval={0} />
        <YAxis dataKey="y" type="number" domain={yDomain} allowDataOverflow ticks={yTicks} tickFormatter={yFmt} tick={{ fontFamily: FONT, fontSize: 18.5, fill: "#000" }} tickSize={4} tickMargin={3} axisLine={false} stroke="#000" width={yw} interval={0} hide={!showY} />
        <Scatter
          data={rows}
          isAnimationActive={false}
          shape={(p: any) => (
            <circle cx={p.cx} cy={p.cy} r={3.4} fill={plasma(p.payload.err / vmax)} fillOpacity={0.8} stroke="#000" strokeOpacity={0.7} strokeWidth={0.9} />
          )}
        />
      </ScatterChart>
      <div style={{ position: "absolute", left: yw, top: 10, width, height, boxSizing: "border-box", border: "1px solid #777", pointerEvents: "none" }} />
      <div style={{ position: "absolute", left: yw, top: 10, width: tagWidth, height: 28, background: "#e5e5e5", fontFamily: FONT, fontSize: 18.5, lineHeight: "26px", textAlign: "center" }}>{tag}</div>
    </div>
  );
}

function ColorBar({ left, top, height, vmax, ticks, labels, gradId }: any) {
  const w = 9;
  const stops = [0, 0.11, 0.22, 0.33, 0.44, 0.56, 0.67, 0.78, 0.89, 1];
  return (
    <div style={{ position: "absolute", left, top: top - 10, width: 90, height: height + 30 }}>
      <BarChart width={w + 80} height={height + 30} data={[{ name: "c", v: vmax }]} margin={{ top: 10, right: 0, left: 0, bottom: 20 }} barCategoryGap={0}>
        <defs>
          <linearGradient id={gradId} x1="0" y1="1" x2="0" y2="0">
            {stops.map((s) => <stop key={s} offset={s} stopColor={plasma(s)} />)}
          </linearGradient>
        </defs>
        <XAxis dataKey="name" hide />
        <YAxis orientation="right" type="number" domain={[0, vmax]} ticks={ticks} tickFormatter={(v: number) => labels[ticks.indexOf(v)]} tick={{ fontFamily: FONT, fontSize: 17.5, fill: "#000", dy: 1.5 }} tickSize={3} tickMargin={3} axisLine={false} stroke="#000" width={80} interval={0} />
        <Bar dataKey="v" fill={`url(#${gradId})`} isAnimationActive={false} />
      </BarChart>
      <div style={{ position: "absolute", left: 0, top: 10, width: w, height, boxSizing: "border-box", border: "1px solid #777" }} />
    </div>
  );
}

const I = ({ children }: any) => <span style={{ fontStyle: "italic" }}>{children}</span>;
const S = ({ children }: any) => <span style={{ fontSize: "0.7em", position: "relative", top: "0.25em" }}>{children}</span>;

function Txt({ x, y, rotate, size = 17.4, children, family = FONT }: any) {
  return (
    <div style={{ position: "absolute", left: x, top: y, transform: `translate(-50%,-50%)${rotate ? " rotate(-90deg)" : ""}`, whiteSpace: "nowrap", fontFamily: family, fontSize: size, color: "#000" }}>
      {children}
    </div>
  );
}

const finalLabel = (
  <>‖<I>p</I><S>goal</S> − <I>p</I><S>final</S>‖ + |Δ<I>θ</I>(<I>Q</I><S>goal</S>, <I>Q</I><S>final</S>)|</>
);
const distLabel = <>‖<I>p</I><S>goal</S> − <I>p</I><S>0</S>‖ [m]</>;
const yawLabel = <>Δyaw(<I>Q</I><S>goal</S>, <I>Q</I><S>0</S>) [rad]</>;
const minus = (d: number) => (v: number) => (v < 0 ? "\u2212" : "") + Math.abs(v).toFixed(d);

const aTable = histTable([aEtrEdges, aEtrCounts], [aCtrEdges, aCtrCounts], [aRctrEdges, aRctrCounts]);
const bTable = histTable([bEtrEdges, bEtrCounts], [bCtrEdges, bCtrCounts], [bRctrEdges, bRctrCounts]);

const topPanels = [
  { left: 426, tag: "R-CTR", tagWidth: 65, errs: topErrRctr },
  { left: 690, tag: "CTR", tagWidth: 46, errs: topErrCtr },
  { left: 953, tag: "ETR", tagWidth: 46, errs: topErrEtr },
];
const botPanels = [
  { left: 421, tag: "R-CTR", tagWidth: 64, errs: botErrRctr },
  { left: 685, tag: "CTR", tagWidth: 44, errs: botErrCtr },
  { left: 949, tag: "ETR", tagWidth: 44, errs: botErrEtr },
];

export default function App() {
  return (
    <div style={{ position: "absolute", left: 0, top: 0, width: 1319, height: 745, background: "#fff", overflow: "hidden" }}>
      <Hist left={77} top={9} width={252} height={258} rows={aTable} xDomain={[-5.277, 0.085]} yMax={144.2} xTicks={[-4, -2, 0]} yTicks={[0, 25, 50, 75, 100, 125]} medians={aMedians} medianOrder={["etr", "ctr", "rctr"]} />
      <Legend2 left={217} top={17} width={104} />
      <Txt x={17} y={138} rotate>Number of Samples</Txt>
      <Txt x={203} y={309}>{finalLabel}</Txt>

      {topPanels.map((p, i) => (
        <ScatterPanel key={p.tag} left={p.left} top={9} width={252} height={258} points={topPoints} errs={p.errs} vmax={18} xDomain={[-0.0223, 0.488]} yDomain={[-0.063, 1.3185]} xTicks={[0, 0.2, 0.4]} yTicks={[0, 0.25, 0.5, 0.75, 1, 1.25]} xFmt={minus(1)} yFmt={minus(2)} tag={p.tag} tagWidth={p.tagWidth} showY={i === 0} />
      ))}
      <Txt x={358} y={138} rotate>|Δ<I>θ</I>(<I>Q</I><S>goal</S>, <I>Q</I><S>0</S>)| [rad]</Txt>
      <Txt x={551} y={308}>{distLabel}</Txt>
      <Txt x={815} y={308}>{distLabel}</Txt>
      <Txt x={1078} y={308}>{distLabel}</Txt>
      <ColorBar left={1215} top={9} height={258} vmax={18} ticks={[0, 4.5, 9, 13.5, 18]} labels={["0.000", "0.005", "0.009", "0.014", "≥0.018"]} gradId="cbTop" />

      <Txt x={656} y={342} size={22.5} family="Liberation Sans"><b style={{ fontFamily: "Liberation Serif" }}>(a)</b> Iiwa Bimanual</Txt>

      <Hist left={77} top={394} width={255} height={258} rows={bTable} xDomain={[-3.632, 0.85]} yMax={170} xTicks={[-2, 0]} yTicks={[0, 50, 100, 150]} medians={bMedians} medianOrder={["ctr", "rctr", "etr"]} />
      <Legend2 left={219} top={402} width={105} />
      <Txt x={17} y={523} rotate>Number of Samples</Txt>
      <Txt x={205} y={695}>{finalLabel}</Txt>

      {botPanels.map((p, i) => (
        <ScatterPanel key={p.tag} left={p.left} top={394} width={255} height={258} points={botPoints} errs={p.errs} vmax={26} xDomain={[-1.096, 1.134]} yDomain={[-1.127, 1.119]} xTicks={[-1, 0, 1]} yTicks={[-1, -0.5, 0, 0.5, 1]} xFmt={minus(0)} yFmt={minus(1)} tag={p.tag} tagWidth={p.tagWidth} showY={i === 0} />
      ))}
      <Txt x={351} y={523} rotate>Δpitch(<I>Q</I><S>goal</S>, <I>Q</I><S>0</S>) [rad]</Txt>
      <Txt x={547} y={692}>{yawLabel}</Txt>
      <Txt x={811} y={692}>{yawLabel}</Txt>
      <Txt x={1075} y={692}>{yawLabel}</Txt>
      <ColorBar left={1215} top={394} height={258} vmax={26} ticks={[0, 6.5, 13, 19.5, 26]} labels={["0.000", "0.006", "0.013", "0.019", "≥0.026"]} gradId="cbBot" />

      <Txt x={657} y={727} size={22.5} family="Liberation Sans"><b style={{ fontFamily: "Liberation Serif" }}>(b)</b> Allegro Hand</Txt>
    </div>
  );
}
